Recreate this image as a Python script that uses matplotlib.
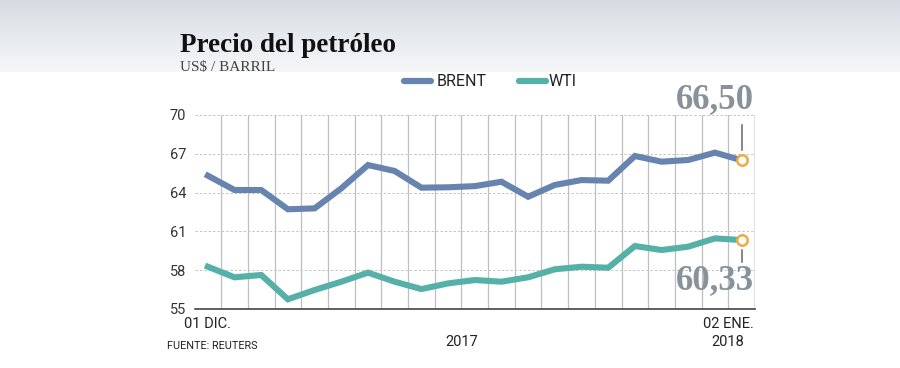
import numpy as np
import matplotlib
matplotlib.use("Agg")
import matplotlib.pyplot as plt
from matplotlib.colors import LinearSegmentedColormap

# ---- data ----
dates = ["01 DIC.", "04", "05", "06", "07", "08", "11", "12", "13", "14", "15",
         "18", "19", "20", "21", "22", "26", "27", "28", "29", "02 ENE."]
brent = [65.31, 64.20, 64.20, 62.71, 62.78, 64.33, 66.13, 65.67, 64.38, 64.41, 64.50,
         64.84, 63.68, 64.59, 64.97, 64.92, 66.83, 66.39, 66.52, 67.09, 66.50]
wti = [58.27, 57.45, 57.63, 55.75, 56.47, 57.11, 57.81, 57.11, 56.54, 56.98, 57.24,
       57.11, 57.45, 58.07, 58.27, 58.19, 59.87, 59.56, 59.82, 60.46, 60.33]
yticks = [55, 58, 61, 64, 67, 70]
series_names = ["BRENT", "WTI"]
years = ["2017", "2018"]

C_BRENT = "#6684ae"
C_WTI = "#55b1a8"
C_ANN = "#87929b"
C_MARK = "#f0ab3f"

W, H = 900, 368
fig = plt.figure(figsize=(W / 100, H / 100), dpi=100)
fig.patch.set_facecolor("white")

# top gradient band
bg = fig.add_axes([0, 1 - 72 / H, 1, 72 / H], zorder=-10)
cmap = LinearSegmentedColormap.from_list("g", ["#d6dce3", "#f6f7f9"])
bg.imshow(np.linspace(0, 1, 100).reshape(-1, 1), aspect="auto", cmap=cmap,
          extent=[0, 1, 0, 1])
bg.axis("off")

sans = ["Roboto", "DejaVu Sans"]
serif = ["Liberation Serif", "DejaVu Serif"]

L, R, T, B = 194.5, 755, 115, 309
ax = fig.add_axes([L / W, 1 - B / H, (R - L) / W, (B - T) / H])
x = np.arange(len(dates))
ax.set_xlim(-0.5, len(dates) - 0.5)
ax.set_ylim(55, 70)

# grid
for k in range(1, len(dates) + 1):
    xv = k - 0.5
    lw = 1.8 if k == len(dates) else 0.9
    col = "#d8d8d8" if k == len(dates) else "#bfbfbf"
    ax.axvline(xv, color=col, lw=lw, zorder=1)
for yv in yticks[1:]:
    ax.axhline(yv, color="#c4c4c4", lw=0.7, ls=(0, (2.5, 2)), zorder=1)

ax.plot(x, brent, color=C_BRENT, lw=4.4, solid_joinstyle="miter", zorder=3)
ax.plot(x, wti, color=C_WTI, lw=4.4, solid_joinstyle="miter", zorder=3)

for s in ["top", "right", "left"]:
    ax.spines[s].set_visible(False)
ax.spines["bottom"].set_color("#444444")
ax.spines["bottom"].set_linewidth(1.2)
ax.set_xticks([])
ax.set_yticks(yticks)
ax.set_yticklabels([str(v) for v in yticks])
ax.tick_params(axis="y", length=0, pad=6, labelsize=10.5, labelcolor="#333333")
for lab in ax.get_yticklabels():
    lab.set_family(sans)

# last-point markers and annotations
last = len(dates) - 1
ax.plot([last], [brent[-1]], "o", ms=7.5, mfc="white", mec=C_MARK, mew=1.8, zorder=5)
ax.plot([last], [wti[-1]], "o", ms=7.5, mfc="white", mec=C_MARK, mew=1.8, zorder=5)
ax.plot([last, last], [brent[-1] + 0.8, brent[-1] + 2.7], color="#666666", lw=1.1, zorder=4)
ax.plot([last, last], [wti[-1] - 0.8, wti[-1] - 1.7], color="#666666", lw=1.1, zorder=4)

def fmt(v):
    return f"{v:.2f}".replace(".", ",")

fig.text(754 / W, 1 - 100 / H, fmt(brent[-1]), ha="right", va="center",
         family=serif, weight="bold", fontsize=25, color=C_ANN)
fig.text(754 / W, 1 - 281 / H, fmt(wti[-1]), ha="right", va="center",
         family=serif, weight="bold", fontsize=25, color=C_ANN)

# title
fig.text(180 / W, 1 - 52 / H, "Precio del petróleo", ha="left", va="baseline",
         family=serif, weight="bold", fontsize=19.5, color="#111111")
fig.text(180 / W, 1 - 71 / H, "US$ / BARRIL", ha="left", va="baseline",
         family=serif, fontsize=11, color="#444444")

# legend
for x0, tx, col, name in [(404, 437, C_BRENT, series_names[0]),
                          (519, 549, C_WTI, series_names[1])]:
    fig.add_artist(plt.Line2D([x0 / W, (x0 + 27) / W], [1 - 81 / H, 1 - 81 / H],
                              color=col, lw=4.5, solid_capstyle="round",
                              transform=fig.transFigure))
    fig.text(tx / W, 1 - 81 / H, name, ha="left", va="center",
             family=sans, fontsize=11.5, color="#222222")

# x labels
fig.text(207 / W, 1 - 324 / H, dates[0], ha="center", va="center",
         family=sans, fontsize=10.5, color="#222222")
fig.text(754 / W, 1 - 324 / H, dates[-1], ha="right", va="center",
         family=sans, fontsize=10.5, color="#222222")
fig.text(462 / W, 1 - 342 / H, years[0], ha="center", va="center",
         family=sans, fontsize=10.5, color="#222222")
fig.text(728 / W, 1 - 342 / H, years[1], ha="center", va="center",
         family=sans, fontsize=10.5, color="#222222")
fig.text(167 / W, 1 - 346 / H, "FUENTE: REUTERS", ha="left", va="center",
         family=sans, fontsize=7.8, color="#222222")

fig.savefig("out.png", dpi=100, facecolor="white")
